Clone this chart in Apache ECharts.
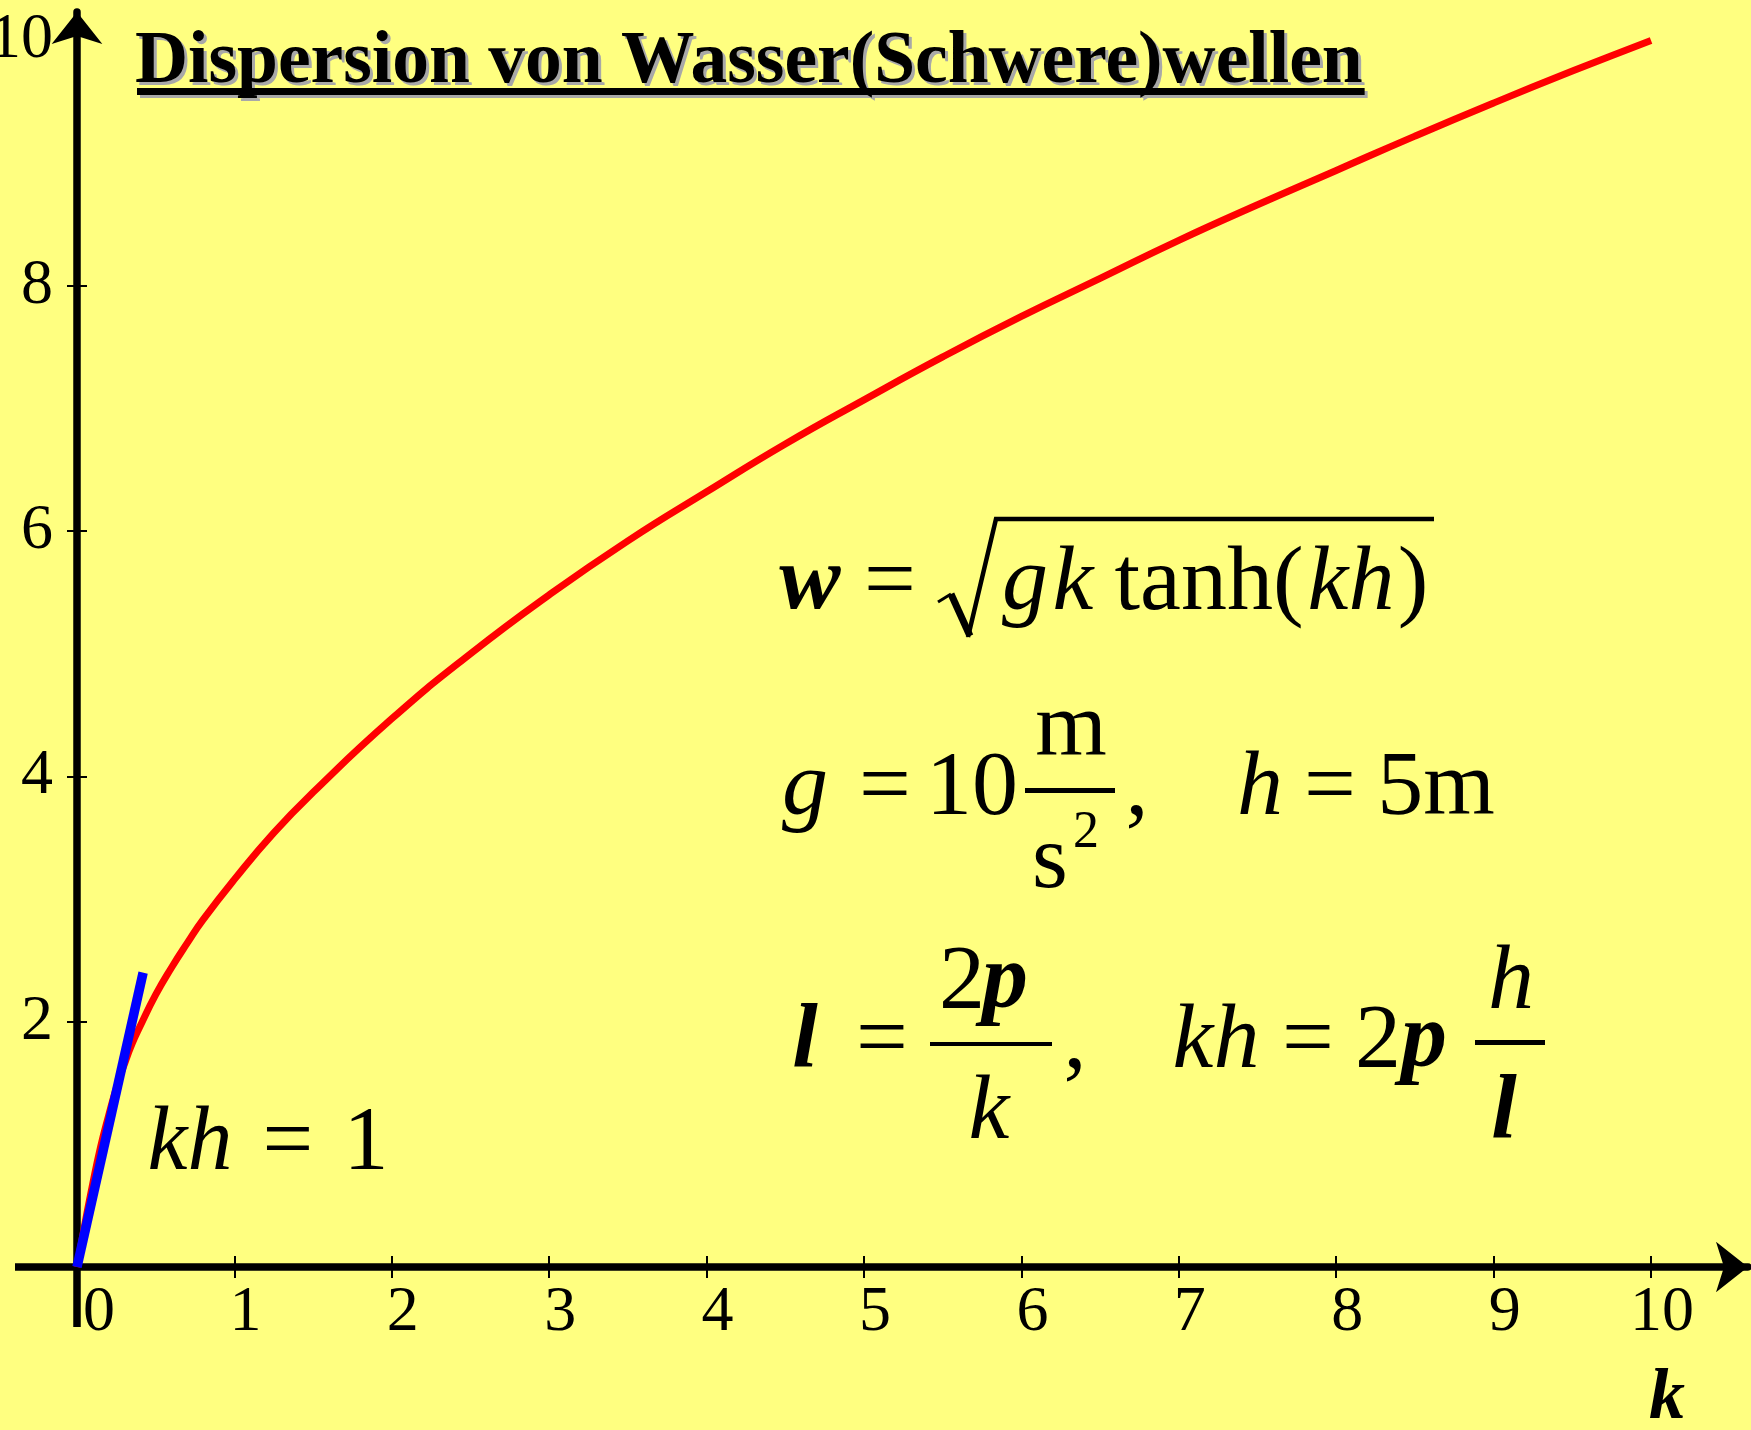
<!DOCTYPE html>
<html>
<head>
<meta charset="utf-8">
<title>Dispersion von Wasser(Schwere)wellen</title>
<script src="https://cdn.jsdelivr.net/npm/echarts@6/dist/echarts.min.js"></script>
<style>
  html, body { margin: 0; padding: 0; background: #ffff80; }
  #chart { width: 1751px; height: 1430px; }
</style>
</head>
<body>
<div id="chart"></div>
<script>
// Wave number k (1/m) and angular frequency w (1/s) of the dispersion curve
const waveNumbers = [0, 0.02, 0.05, 0.1, 0.15, 0.2, 0.25, 0.3, 0.35, 0.4, 0.5, 0.6, 0.7, 0.8,
  1, 1.25, 1.5, 2, 2.5, 3, 3.5, 4, 4.5, 5, 5.5, 6, 6.5, 7, 7.5, 8, 8.5, 9, 9.5, 10];
const omegaValues = [0, 0.14, 0.35, 0.68, 0.98, 1.23, 1.46, 1.65, 1.82, 1.96, 2.22, 2.44, 2.64, 2.83,
  3.16, 3.54, 3.87, 4.47, 5.0, 5.48, 5.92, 6.32, 6.71, 7.07, 7.42, 7.75, 8.06, 8.37, 8.66, 8.94, 9.22, 9.49, 9.75, 10.0];

// Shallow-water tangent at the origin (kh = 1 regime)
const tangentK = [0, 0.42];
const tangentOmega = [0, 2.4];

// Axis ticks and labels
const xTickValues = [1, 2, 3, 4, 5, 6, 7, 8, 9, 10];
const xLabelValues = [0, 1, 2, 3, 4, 5, 6, 7, 8, 9, 10];
const yTickValues = [2, 4, 6, 8];
const yLabelValues = [2, 4, 6, 8, 10];

const titleText = 'Dispersion von Wasser(Schwere)wellen';
const SERIF = '"Liberation Serif", "Times New Roman", serif';

// The axes start at the origin and run past 10 so the arrow heads sit beyond the last tick
const X_MAX = 10.616;
const Y_MAX = 10.232;

// Text piece anchored by its horizontal centre and its baseline
function glyph(text, cx, baseline, size, fontStyle, fontWeight, align) {
  return {
    type: 'text', silent: true, z: 10,
    style: {
      text: text,
      x: cx,
      y: baseline - 0.265 * size,
      fontFamily: SERIF,
      fontSize: size,
      fontStyle: fontStyle || 'normal',
      fontWeight: fontWeight || 'normal',
      fill: '#000',
      align: align || 'center',
      verticalAlign: 'middle',
      textAlign: align || 'center',
      textVerticalAlign: 'middle'
    }
  };
}
function bar(x1, x2, y, h) {
  return { type: 'rect', silent: true, z: 10, shape: { x: x1, y: y, width: x2 - x1, height: h }, style: { fill: '#000' } };
}
function stroke(points, w) {
  return { type: 'polyline', silent: true, z: 10, shape: { points: points }, style: { stroke: '#000', lineWidth: w, fill: null, lineJoin: 'miter' } };
}

// Title with a grey drop shadow and underline
const TITLE_SIZE = 73.5;
const measureCtx = document.createElement('canvas').getContext('2d');
measureCtx.font = 'bold ' + TITLE_SIZE + 'px ' + SERIF;
const titleWidth = measureCtx.measureText(titleText).width;
const TITLE_X = 135, TITLE_BASE = 82, SHADOW = 3;

const titleShadow = glyph(titleText, TITLE_X + SHADOW, TITLE_BASE + SHADOW, TITLE_SIZE, 'normal', 'bold', 'left');
titleShadow.style.fill = '#a8a8a8';
titleShadow.z = 9;
const titleElements = [
  titleShadow,
  { type: 'rect', silent: true, z: 9, shape: { x: TITLE_X + 2 + SHADOW, y: 88 + SHADOW, width: titleWidth, height: 7 }, style: { fill: '#a8a8a8' } },
  glyph(titleText, TITLE_X, TITLE_BASE, TITLE_SIZE, 'normal', 'bold', 'left'),
  bar(TITLE_X + 2, TITLE_X + 2 + titleWidth, 88, 7)
];

const F = 92;
const formulaElements = [
  // w = sqrt(gk tanh(kh))
  glyph('w', 810, 609, F, 'italic', 'bold'),
  glyph('=', 890, 609, F),
  stroke([[938, 602], [951, 594]], 3),
  stroke([[951, 594], [970, 636]], 7),
  stroke([[968, 637], [996, 519], [1434, 519]], 4.5),
  glyph('g', 1025, 609, F, 'italic'),
  glyph('k', 1073, 609, F, 'italic'),
  glyph('tanh(', 1209, 609, F),
  glyph('kh', 1351, 609, F, 'italic'),
  glyph(')', 1413, 609, F),

  // g = 10 m/s^2,   h = 5m
  glyph('g', 805, 814, F, 'italic'),
  glyph('=', 885, 814, F),
  glyph('10', 972, 814, F),
  glyph('m', 1071, 755, F),
  bar(1025, 1115, 788, 5),
  glyph('s', 1050, 887, F),
  glyph('2', 1086, 847, 52),
  glyph(',', 1137, 814, F),
  glyph('h', 1260, 814, F, 'italic'),
  glyph('=', 1330, 814, F),
  glyph('5m', 1436, 814, F),

  // l = 2p/k,   kh = 2p h/l
  glyph('l', 805, 1067, F, 'italic', 'bold'),
  glyph('=', 882, 1067, F),
  glyph('2', 962, 1008, F),
  glyph('p', 1005, 1008, F, 'italic', 'bold'),
  bar(930, 1052, 1042, 4),
  glyph('k', 989, 1138, F, 'italic'),
  glyph(',', 1075, 1067, F),
  glyph('kh', 1216, 1067, F, 'italic'),
  glyph('=', 1308, 1067, F),
  glyph('2', 1378, 1067, F),
  glyph('p', 1424, 1067, F, 'italic', 'bold'),
  bar(1475, 1545, 1040, 5),
  glyph('h', 1511, 1008, F, 'italic'),
  glyph('l', 1504, 1138, F, 'italic', 'bold'),

  // kh = 1 next to the tangent
  glyph('kh', 190, 1169, 90, 'italic'),
  glyph('=', 288, 1169, 90),
  glyph('1', 366, 1169, 90),

  // axis title k
  glyph('k', 1667, 1418, 72, 'italic', 'bold')
];

const axisLineStyle = { color: '#000', width: 7.5 };
const tickLine = { color: '#000', width: 2 };
const labelFont = { fontFamily: SERIF, fontSize: 64, color: '#000' };
const arrowSize = [38, 32];

const chart = echarts.init(document.getElementById('chart'), null, { renderer: 'canvas' });
chart.setOption({
  backgroundColor: '#ffff80',
  animation: false,
  grid: { left: 77, right: 3, top: 12, bottom: 163, show: false, containLabel: false, outerBoundsMode: 'none' },
  xAxis: [
    {
      type: 'value', position: 'bottom', min: 0, max: X_MAX,
      axisLine: { show: true, onZero: false, lineStyle: axisLineStyle,
        symbol: ['none', 'arrow'], symbolSize: arrowSize },
      axisTick: { show: true, customValues: xTickValues, inside: false, length: 11, lineStyle: tickLine },
      axisLabel: Object.assign({
        customValues: xLabelValues, margin: 14, padding: [0, 0, 0, 22],
        formatter: function (v) { return v === 0 ? '{z|0}' : String(v); },
        rich: { z: Object.assign({ padding: [0, 0, 0, 22] }, labelFont) }
      }, labelFont),
      splitLine: { show: false }
    },
    {
      type: 'value', position: 'bottom', min: 0, max: X_MAX,
      axisLine: { show: false, onZero: false },
      axisTick: { show: true, customValues: xTickValues, inside: true, length: 11, lineStyle: tickLine },
      axisLabel: { show: false },
      splitLine: { show: false }
    }
  ],
  yAxis: [
    {
      type: 'value', position: 'left', min: 0, max: Y_MAX,
      axisLine: { show: true, onZero: false, lineStyle: axisLineStyle,
        symbol: ['none', 'arrow'], symbolSize: arrowSize },
      axisTick: { show: true, customValues: yTickValues, inside: false, length: 10, lineStyle: tickLine },
      axisLabel: Object.assign({ customValues: yLabelValues, margin: 24, padding: [8, 0, 0, 0] }, labelFont),
      splitLine: { show: false }
    },
    {
      type: 'value', position: 'left', min: 0, max: Y_MAX,
      axisLine: { show: false, onZero: false },
      axisTick: { show: true, customValues: yTickValues, inside: true, length: 10, lineStyle: tickLine },
      axisLabel: { show: false },
      splitLine: { show: false }
    }
  ],
  series: [
    {
      name: 'w(k)', type: 'line', xAxisIndex: 0, yAxisIndex: 0,
      data: waveNumbers.map(function (k, i) { return [k, omegaValues[i]]; }),
      smooth: true, showSymbol: false, silent: true, z: 3,
      lineStyle: { color: '#ff0000', width: 7 }
    },
    {
      name: 'kh = 1', type: 'line', xAxisIndex: 0, yAxisIndex: 0,
      data: tangentK.map(function (k, i) { return [k, tangentOmega[i]]; }),
      showSymbol: false, silent: true, z: 4,
      lineStyle: { color: '#0000ff', width: 9.5, cap: 'butt' }
    }
  ],
  graphic: { elements: titleElements.concat(formulaElements) }
});

// The axis lines continue a short way past the origin (left of k = 0 and below w = 0)
const origin = chart.convertToPixel({ gridIndex: 0 }, [0, 0]);
chart.setOption({
  graphic: {
    elements: [
      { id: 'xAxisStub', type: 'rect', silent: true, z: 1,
        shape: { x: origin[0] - 62, y: origin[1] - 3.75, width: 62, height: 7.5 }, style: { fill: '#000' } },
      { id: 'yAxisStub', type: 'rect', silent: true, z: 1,
        shape: { x: origin[0] - 3.75, y: origin[1], width: 7.5, height: 60 }, style: { fill: '#000' } }
    ]
  }
});
</script>
</body>
</html>
